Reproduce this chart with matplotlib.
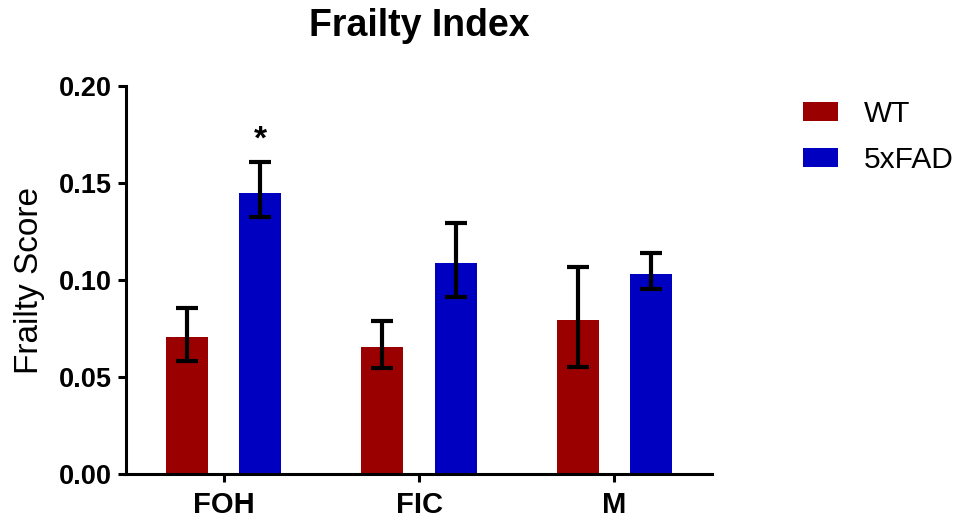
import matplotlib
matplotlib.use("Agg")
import matplotlib.pyplot as plt
import numpy as np

plt.rcParams["font.family"] = ["Liberation Sans", "DejaVu Sans"]

# Data
groups = ["FOH", "FIC", "M"]
wt_mean = [0.0705, 0.0657, 0.0794]
wt_upper = [0.0854, 0.0791, 0.1065]
wt_lower = [0.0585, 0.0549, 0.0554]
fad_mean = [0.1446, 0.1088, 0.1031]
fad_upper = [0.1606, 0.1292, 0.1137]
fad_lower = [0.1326, 0.0914, 0.0952]
y_ticks = [0.00, 0.05, 0.10, 0.15, 0.20]

wt_err = [np.subtract(wt_mean, wt_lower), np.subtract(wt_upper, wt_mean)]
fad_err = [np.subtract(fad_mean, fad_lower), np.subtract(fad_upper, fad_mean)]

x = np.arange(len(groups))
width = 0.215
offset = 0.187

fig = plt.figure(figsize=(9.64, 5.23), dpi=100)
ax = fig.add_axes([0.1307, 0.0931, 0.6079, 0.7429])

err_kw = dict(ecolor="black", elinewidth=3, capsize=8, capthick=3)
ax.bar(x - offset, wt_mean, width, color="#9b0000", label="WT",
       yerr=wt_err, error_kw=err_kw)
ax.bar(x + offset, fad_mean, width, color="#0000c0", label="5xFAD",
       yerr=fad_err, error_kw=err_kw)

# significance marker above 5xFAD FOH
ax.text(x[0] + offset, fad_upper[0] + 0.0035, "*", ha="center", va="bottom",
        fontsize=24, fontweight="bold")

ax.set_xlim(-0.5, 2.5)
ax.set_ylim(0, 0.20)
ax.set_xticks(x)
ax.set_xticklabels(groups, fontsize=21, fontweight="bold")
ax.set_yticks(y_ticks)
ax.set_yticklabels([f"{v:.2f}" for v in y_ticks], fontsize=19.5, fontweight="bold")
ax.tick_params(axis="both", width=2.2, length=6, direction="out")
ax.tick_params(axis="x", pad=6)
ax.tick_params(axis="y", pad=4)

for side in ["top", "right"]:
    ax.spines[side].set_visible(False)
for side in ["left", "bottom"]:
    ax.spines[side].set_linewidth(2.2)

ax.set_ylabel("Frailty Score", fontsize=24, labelpad=10)
ax.set_title("Frailty Index", fontsize=27, fontweight="bold", pad=36)

fig.legend(loc="upper left", bbox_to_anchor=(0.805, 0.86), frameon=False,
           fontsize=21.5, handlelength=1.17, handleheight=0.6,
           labelspacing=0.6, handletextpad=0.87)

fig.savefig("out.png", dpi=100)
